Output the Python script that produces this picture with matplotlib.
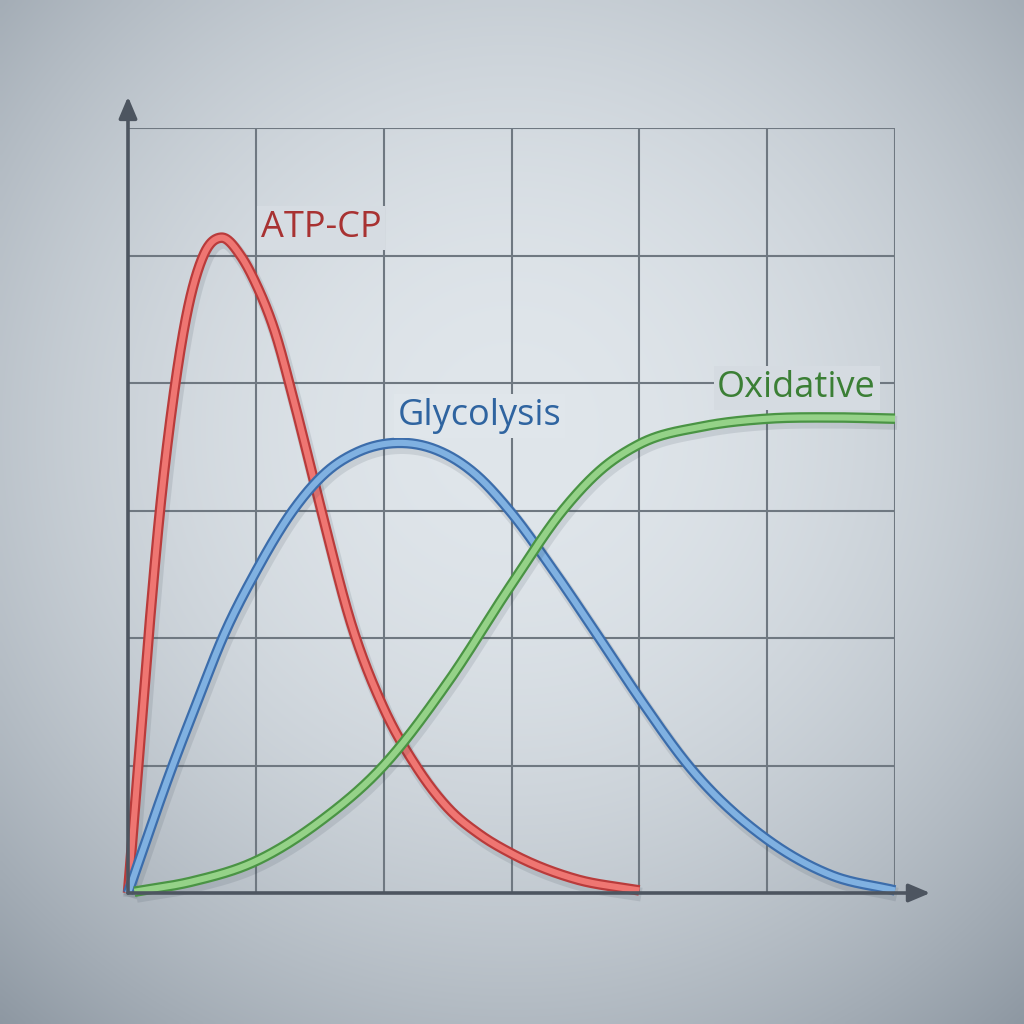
import numpy as np
import matplotlib
matplotlib.use("Agg")
import matplotlib.pyplot as plt
import matplotlib.patheffects as pe

# ---------------- data (grid units 0..6) ----------------
atp_x = [0.0, 0.08, 0.16, 0.25, 0.35, 0.45, 0.59, 0.73, 0.88, 1.0, 1.15, 1.30, 1.50, 1.75, 2.0, 2.25, 2.5, 2.75, 3.0, 3.5, 4.0]
atp_y = [0.0, 1.0, 2.0, 3.0, 3.85, 4.49, 5.0, 5.14, 5.0, 4.78, 4.4, 3.85, 3.05, 2.1, 1.45, 1.0, 0.67, 0.46, 0.31, 0.11, 0.02]

gly_x = [0.0, 0.35, 0.55, 0.74, 1.0, 1.29, 1.55, 1.8, 2.1, 2.4, 2.7, 3.0, 3.3, 3.7, 4.0, 4.4, 5.0, 5.5, 6.0]
gly_y = [0.0, 1.0, 1.52, 2.0, 2.52, 3.0, 3.3, 3.46, 3.53, 3.48, 3.3, 2.98, 2.57, 1.98, 1.53, 0.98, 0.42, 0.14, 0.02]

oxi_x = [0.05, 0.5, 1.0, 1.5, 2.0, 2.5, 3.0, 3.4, 3.7, 4.0, 4.5, 5.0, 5.5, 6.0]
oxi_y = [0.01, 0.09, 0.25, 0.56, 1.0, 1.65, 2.42, 3.0, 3.32, 3.52, 3.66, 3.72, 3.73, 3.72]

grid_ticks = [0, 1, 2, 3, 4, 5, 6]

labels = ["ATP-CP", "Glycolysis", "Oxidative"]
label_pos = [(1.51, 5.145), (2.75, 3.67), (5.23, 3.89)]

# ---------------- helpers ----------------
def smooth_curve(xs, ys, n=40):
    """Cubic Hermite through the read points (drawing only)."""
    x = np.asarray(xs, float)
    y = np.asarray(ys, float)
    h = np.diff(x)
    s = np.diff(y) / h
    m = np.empty_like(y)
    m[0] = s[0]
    m[-1] = s[-1]
    m[1:-1] = (s[:-1] * h[1:] + s[1:] * h[:-1]) / (h[:-1] + h[1:])
    ox, oy = [], []
    for i in range(len(x) - 1):
        t = np.linspace(0, 1, n)
        if i > 0:
            t = t[1:]
        h00 = 2 * t**3 - 3 * t**2 + 1
        h10 = t**3 - 2 * t**2 + t
        h01 = -2 * t**3 + 3 * t**2
        h11 = t**3 - t**2
        ox.append(x[i] + t * h[i])
        oy.append(h00 * y[i] + h10 * h[i] * m[i] + h01 * y[i + 1] + h11 * h[i] * m[i + 1])
    return np.concatenate(ox), np.concatenate(oy)

# ---------------- figure ----------------
W = H = 1024
fig = plt.figure(figsize=(W / 100, H / 100), dpi=100)

c0 = np.array([224, 230, 235]) / 255.0
c1 = np.array([163, 172, 181]) / 255.0

def bg_color(fx, fy_top):
    d = np.sqrt((fx - 0.5) ** 2 + (fy_top - 0.42) ** 2) / 0.66
    f = np.clip(d, 0, 1.2) ** 2.0
    return c0 + (c1 - c0) * np.asarray(f)[..., None]

bg = fig.add_axes([0, 0, 1, 1], zorder=0)
yy, xx = np.mgrid[0:256, 0:256] / 255.0
img = bg_color(xx, yy)
bg.imshow(np.clip(img, 0, 1), extent=[0, 1, 0, 1], aspect="auto", interpolation="bilinear")
bg.axis("off")

x0, x1, y0, y1 = 128, 895, 893, 128
ax = fig.add_axes([x0 / W, (H - y0) / H, (x1 - x0) / W, (y0 - y1) / H], zorder=1)
ax.patch.set_alpha(0)
ax.set_xlim(0, 6)
ax.set_ylim(0, 6)
for s in ax.spines.values():
    s.set_visible(False)
ax.set_xticks([])
ax.set_yticks([])

grid_col = "#6f7881"
for g in grid_ticks[1:]:
    ax.axvline(g, color=grid_col, lw=1.5, zorder=1)
    ax.axhline(g, color=grid_col, lw=1.5, zorder=1)

axis_col = "#4d5560"
ax.annotate("", xy=(0, 1.041), xytext=(0, 0), xycoords="axes fraction",
            arrowprops=dict(arrowstyle="-|>,head_length=1.3,head_width=0.55",
                            lw=2.6, color=axis_col, shrinkA=0, shrinkB=0), zorder=6)
ax.annotate("", xy=(1.046, 0), xytext=(0, 0), xycoords="axes fraction",
            arrowprops=dict(arrowstyle="-|>,head_length=1.3,head_width=0.55",
                            lw=2.6, color=axis_col, shrinkA=0, shrinkB=0), zorder=6)

series = [
    (atp_x, atp_y, "#b93b3b", "#ef7672"),
    (gly_x, gly_y, "#3c6dab", "#80b1e1"),
    (oxi_x, oxi_y, "#4a9444", "#95d288"),
]
z = 3
for xs, ys, edge, inner in series:
    sx, sy = smooth_curve(xs, ys)
    ax.plot(sx, sy, color=inner, lw=4.4, solid_capstyle="butt", zorder=z,
            clip_on=False,
            path_effects=[pe.SimpleLineShadow(offset=(1.5, -3), shadow_color="#33404d", alpha=0.12, linewidth=10),
                          pe.Stroke(linewidth=7.6, foreground=edge),
                          pe.Normal()])
    z += 0.1

label_cols = ["#a83232", "#2f64a0", "#3b7f35"]
for (lx, ly), t, c in zip(label_pos, labels, label_cols):
    txt = ax.text(lx, ly, t, color=c, fontsize=26, family=["Open Sans", "DejaVu Sans"],
                  ha="center", va="baseline", zorder=5)
    # box colour taken from the background gradient at the label position
    px, py = ax.transData.transform((lx, ly))
    col = bg_color(px / W, 1 - (py + 12) / H)
    txt.set_bbox(dict(boxstyle="square,pad=0.1", fc=tuple(np.clip(col, 0, 1)), ec="none"))

fig.savefig("out.png", dpi=100)
